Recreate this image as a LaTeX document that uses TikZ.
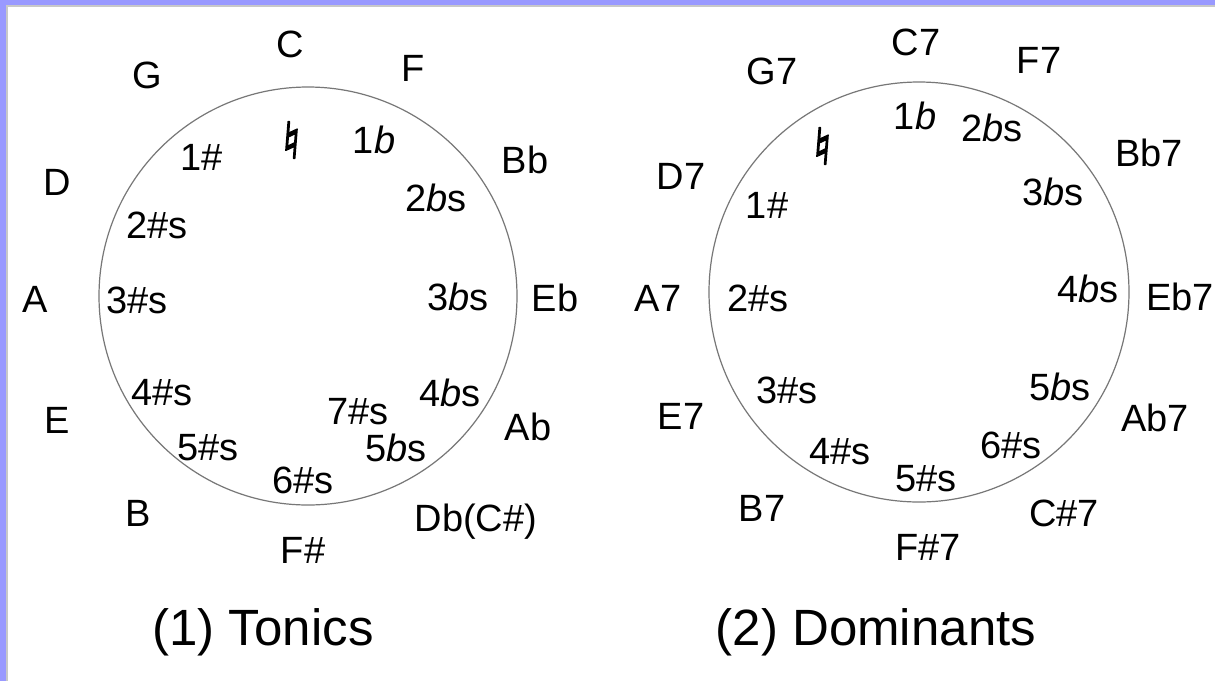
\documentclass[tikz,border=0pt]{standalone}
\usepackage{fontspec}
\setmainfont{Liberation Sans}
\newfontfamily\natfont[FakeSlant=0.08,FakeBold=3]{DejaVu Sans}
\definecolor{bordblue}{HTML}{9999FF}
\definecolor{bordgray}{HTML}{C8C8C8}
\definecolor{ringgray}{HTML}{777777}
\newcommand{\nat}{{\natfont\fontsize{25pt}{25pt}\selectfont ♮}}
\newcommand{\fl}{{\itshape b}}
\begin{document}
\begin{tikzpicture}[x=0.5pt,y=-0.5pt,
  lbl/.style={inner sep=0pt,anchor=center,font=\fontsize{19pt}{19pt}\selectfont},
  ttl/.style={inner sep=0pt,anchor=center,font=\fontsize{25.5pt}{25.5pt}\selectfont},
  ring/.style={draw=ringgray,line width=0.6pt}]
\useasboundingbox (0,0) rectangle (1215,681);
\fill[white] (0,0) rectangle (1215,681);
\fill[bordblue] (0,0) rectangle (6,681);
\fill[bordblue] (0,0) rectangle (1215,5);
\fill[bordgray] (6,5) rectangle (8,681);
\fill[bordgray] (6,5) rectangle (1215,7);
% left circle
\draw[ring] (308,296) circle [radius=104.5pt];
\node[lbl] (tC) at (290,44) {C};
\node[lbl] (tG) at (147,75) {G};
\node[lbl] (tF) at (413,68) {F};
\node[lbl] (tD) at (57,182) {D};
\node[lbl] (tBb) at (525,160) {Bb};
\node[lbl] (tA) at (35,299) {A};
\node[lbl] (tEb) at (555,298) {Eb};
\node[lbl] (tE) at (57,420) {E};
\node[lbl] (tAb) at (528,427) {Ab};
\node[lbl] (tB) at (138,513) {B};
\node[lbl] (tDb) at (476,522) {Db(C\#)};
\node[lbl] (tFs) at (303,550) {F\#};
\node[lbl] (iN) at (290,140) {\nat};
\node[lbl] (i1b) at (374,140) {1\fl};
\node[lbl] (i1s) at (202,157) {1\#};
\node[lbl] (i2b) at (436,198) {2\fl s};
\node[lbl] (i2s) at (157,225) {2\#s};
\node[lbl] (i3s) at (137,300) {3\#s};
\node[lbl] (i3b) at (458,297) {3\fl s};
\node[lbl] (i4s) at (162,393) {4\#s};
\node[lbl] (i4b) at (450,393) {4\fl s};
\node[lbl] (i7s) at (358,412) {7\#s};
\node[lbl] (i5s) at (208,448) {5\#s};
\node[lbl] (i5b) at (396,448) {5\fl s};
\node[lbl] (i6s) at (303,480) {6\#s};
% right circle
\draw[ring] (919,292) circle [radius=105pt];
\node[lbl] (dC) at (916,42) {C7};
\node[lbl] (dG) at (772,71) {G7};
\node[lbl] (dF) at (1039,60) {F7};
\node[lbl] (dBb) at (1149,153) {Bb7};
\node[lbl] (dD) at (681,176) {D7};
\node[lbl] (dA) at (658,298) {A7};
\node[lbl] (dEb) at (1180,297) {Eb7};
\node[lbl] (dE) at (681,416) {E7};
\node[lbl] (dAb) at (1155,418) {Ab7};
\node[lbl] (dB) at (762,508) {B7};
\node[lbl] (dCs) at (1064,513) {C\#7};
\node[lbl] (dFs) at (928,547) {F\#7};
\node[lbl] (j1b) at (915,116) {1\fl};
\node[lbl] (j2b) at (992,128) {2\fl s};
\node[lbl] (jN) at (821,146) {\nat};
\node[lbl] (j3b) at (1053,192) {3\fl s};
\node[lbl] (j1s) at (767,205) {1\#};
\node[lbl] (j4b) at (1088,289) {4\fl s};
\node[lbl] (j2s) at (758,298) {2\#s};
\node[lbl] (j3s) at (787,390) {3\#s};
\node[lbl] (j5b) at (1060,387) {5\fl s};
\node[lbl] (j4s) at (840,452) {4\#s};
\node[lbl] (j6s) at (1011,445) {6\#s};
\node[lbl] (j5s) at (926,479) {5\#s};
% titles
\node[ttl] (title1) at (263,632) {(1) Tonics};
\node[ttl] (title2) at (876,632) {(2) Dominants};
\end{tikzpicture}
\end{document}
